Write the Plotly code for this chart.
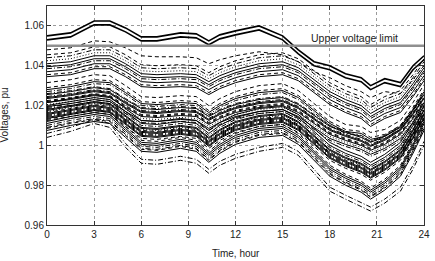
import plotly.graph_objects as go

hours = [0, 1.5, 3, 4, 5, 6, 7, 8.5, 9.5, 10.3, 11, 12, 13.5, 15, 16, 17, 18, 19, 20, 20.6, 21.5, 22.5, 23.3, 24]
x_ticks = [0, 3, 6, 9, 12, 15, 18, 21, 24]
y_ticks = [0.96, 0.98, 1.0, 1.02, 1.04, 1.06]
y_tick_labels = ["0.96", "0.98", "1", "1.02", "1.04", "1.06"]
upper_limit = 1.05
limit_label = "Upper voltage limit"

v01 = [1.055, 1.0565, 1.0625, 1.0625, 1.059, 1.0545, 1.0545, 1.0565, 1.056, 1.0525, 1.0555, 1.0575, 1.060, 1.055, 1.048, 1.042, 1.040, 1.036, 1.034, 1.030, 1.0335, 1.0315, 1.040, 1.045]
v02 = [1.053, 1.0545, 1.0605, 1.0605, 1.057, 1.0525, 1.0525, 1.0545, 1.054, 1.0505, 1.0535, 1.0555, 1.058, 1.053, 1.046, 1.040, 1.038, 1.034, 1.032, 1.028, 1.0315, 1.0295, 1.038, 1.043]
v03 = [1.048, 1.049, 1.0525, 1.052, 1.049, 1.045, 1.0445, 1.0445, 1.044, 1.041, 1.043, 1.045, 1.047, 1.0455, 1.042, 1.037, 1.034, 1.030, 1.027, 1.024, 1.027, 1.026, 1.033, 1.040]
v04 = [1.0455, 1.0465, 1.0495, 1.0495, 1.0455, 1.0405, 1.040, 1.0405, 1.040, 1.0365, 1.0395, 1.0425, 1.0455, 1.0465, 1.0435, 1.0375, 1.0315, 1.0275, 1.0245, 1.0205, 1.0245, 1.0275, 1.0355, 1.0435]
v05 = [1.044, 1.045, 1.048, 1.048, 1.044, 1.039, 1.0385, 1.039, 1.0385, 1.035, 1.038, 1.041, 1.044, 1.045, 1.042, 1.036, 1.030, 1.026, 1.023, 1.019, 1.023, 1.026, 1.034, 1.042]
v06 = [1.0425, 1.0435, 1.0465, 1.0465, 1.0425, 1.0375, 1.037, 1.0375, 1.037, 1.0335, 1.0365, 1.0395, 1.0425, 1.0435, 1.0405, 1.0345, 1.0285, 1.0245, 1.0215, 1.0175, 1.0215, 1.0245, 1.0325, 1.0405]
v07 = [1.041, 1.042, 1.045, 1.045, 1.041, 1.036, 1.0355, 1.036, 1.0355, 1.032, 1.035, 1.038, 1.041, 1.042, 1.039, 1.033, 1.027, 1.023, 1.020, 1.016, 1.020, 1.023, 1.031, 1.039]
v08 = [1.0395, 1.0405, 1.0435, 1.0435, 1.0395, 1.0345, 1.034, 1.0345, 1.034, 1.0305, 1.0335, 1.0365, 1.0395, 1.0405, 1.0375, 1.0315, 1.0255, 1.0215, 1.0185, 1.0145, 1.0185, 1.0215, 1.0295, 1.0375]
v09 = [1.0385, 1.0395, 1.0425, 1.0425, 1.0385, 1.0335, 1.033, 1.0335, 1.033, 1.0295, 1.0325, 1.0355, 1.0385, 1.0395, 1.0365, 1.0305, 1.0245, 1.0205, 1.0175, 1.0135, 1.0175, 1.0205, 1.0285, 1.0365]
v10 = [1.037, 1.038, 1.041, 1.041, 1.037, 1.032, 1.0315, 1.032, 1.0315, 1.028, 1.031, 1.034, 1.037, 1.038, 1.035, 1.029, 1.023, 1.019, 1.016, 1.012, 1.016, 1.019, 1.027, 1.035]
v11 = [1.0355, 1.0365, 1.0395, 1.0395, 1.0355, 1.0305, 1.030, 1.0305, 1.030, 1.0265, 1.0295, 1.0325, 1.0355, 1.0365, 1.0335, 1.0275, 1.0215, 1.0175, 1.0145, 1.0105, 1.0145, 1.0175, 1.0255, 1.0335]
v12 = [1.0345, 1.0355, 1.0385, 1.0385, 1.0345, 1.0295, 1.029, 1.0295, 1.029, 1.0255, 1.0285, 1.0315, 1.0345, 1.0355, 1.0325, 1.0265, 1.0205, 1.0165, 1.0135, 1.0095, 1.0135, 1.0165, 1.0245, 1.0325]
v13 = [1.0315, 1.033, 1.0355, 1.035, 1.030, 1.0245, 1.024, 1.025, 1.0245, 1.020, 1.0235, 1.027, 1.030, 1.031, 1.0275, 1.021, 1.0145, 1.0105, 1.0095, 1.0065, 1.008, 1.0125, 1.0215, 1.0305]
v14 = [1.029, 1.0305, 1.033, 1.0325, 1.0275, 1.022, 1.0215, 1.0225, 1.022, 1.0175, 1.021, 1.0245, 1.0275, 1.0285, 1.025, 1.0185, 1.012, 1.008, 1.007, 1.004, 1.0055, 1.010, 1.019, 1.028]
v15 = [1.028, 1.0295, 1.032, 1.0315, 1.0265, 1.021, 1.0205, 1.0215, 1.021, 1.0165, 1.020, 1.0235, 1.0265, 1.0275, 1.024, 1.0175, 1.011, 1.007, 1.006, 1.003, 1.0045, 1.009, 1.018, 1.027]
v16 = [1.027, 1.0285, 1.031, 1.0305, 1.0255, 1.020, 1.0195, 1.0205, 1.020, 1.0155, 1.019, 1.0225, 1.0255, 1.0265, 1.023, 1.0165, 1.010, 1.006, 1.005, 1.002, 1.0035, 1.008, 1.017, 1.026]
v17 = [1.0255, 1.027, 1.029, 1.028, 1.023, 1.0185, 1.018, 1.019, 1.0185, 1.0145, 1.0175, 1.0205, 1.023, 1.024, 1.0205, 1.015, 1.0095, 1.0065, 1.004, 1.0015, 1.0045, 1.0095, 1.0175, 1.0255]
v18 = [1.0245, 1.026, 1.028, 1.027, 1.022, 1.0175, 1.017, 1.018, 1.0175, 1.0135, 1.0165, 1.0195, 1.022, 1.023, 1.0195, 1.014, 1.0085, 1.0055, 1.003, 1.0005, 1.0035, 1.0085, 1.0165, 1.0245]
v19 = [1.0235, 1.025, 1.027, 1.026, 1.021, 1.0165, 1.016, 1.017, 1.0165, 1.0125, 1.0155, 1.0185, 1.021, 1.022, 1.0185, 1.013, 1.0075, 1.0045, 1.002, 0.9995, 1.0025, 1.0075, 1.0155, 1.0235]
v20 = [1.0225, 1.024, 1.026, 1.025, 1.020, 1.0155, 1.015, 1.016, 1.0155, 1.0115, 1.0145, 1.0175, 1.020, 1.021, 1.0175, 1.012, 1.0065, 1.0035, 1.001, 0.9985, 1.0015, 1.0065, 1.0145, 1.0225]
v21 = [1.0215, 1.023, 1.025, 1.024, 1.019, 1.0145, 1.014, 1.015, 1.0145, 1.0105, 1.0135, 1.0165, 1.019, 1.020, 1.0165, 1.011, 1.0055, 1.0025, 1.000, 0.9975, 1.0005, 1.0055, 1.0135, 1.0215]
v22 = [1.0205, 1.022, 1.024, 1.023, 1.018, 1.0135, 1.013, 1.014, 1.0135, 1.0095, 1.0125, 1.0155, 1.018, 1.019, 1.0155, 1.010, 1.0045, 1.0015, 0.999, 0.9965, 0.9995, 1.0045, 1.0125, 1.0205]
v23 = [1.0195, 1.021, 1.023, 1.022, 1.017, 1.0125, 1.012, 1.013, 1.0125, 1.0085, 1.0115, 1.0145, 1.017, 1.018, 1.0145, 1.009, 1.0035, 1.0005, 0.998, 0.9955, 0.9985, 1.0035, 1.0115, 1.0195]
v24 = [1.0185, 1.020, 1.022, 1.021, 1.016, 1.0115, 1.011, 1.012, 1.0115, 1.0075, 1.0105, 1.0135, 1.016, 1.017, 1.0135, 1.008, 1.0025, 0.9995, 0.997, 0.9945, 0.9975, 1.0025, 1.0105, 1.0185]
v25 = [1.0175, 1.0195, 1.0215, 1.0205, 1.0145, 1.0085, 1.008, 1.0095, 1.0085, 1.0035, 1.0075, 1.0115, 1.0145, 1.0155, 1.0115, 1.0045, 0.9975, 0.9935, 0.9905, 0.9875, 0.9915, 0.9975, 1.0075, 1.0175]
v26 = [1.0165, 1.0185, 1.0205, 1.0195, 1.0135, 1.0075, 1.007, 1.0085, 1.0075, 1.0025, 1.0065, 1.0105, 1.0135, 1.0145, 1.0105, 1.0035, 0.9965, 0.9925, 0.9895, 0.9865, 0.9905, 0.9965, 1.0065, 1.0165]
v27 = [1.0155, 1.0175, 1.0195, 1.0185, 1.0125, 1.0065, 1.006, 1.0075, 1.0065, 1.0015, 1.0055, 1.0095, 1.0125, 1.0135, 1.0095, 1.0025, 0.9955, 0.9915, 0.9885, 0.9855, 0.9895, 0.9955, 1.0055, 1.0155]
v28 = [1.0145, 1.0165, 1.0185, 1.0175, 1.0115, 1.0055, 1.005, 1.0065, 1.0055, 1.0005, 1.0045, 1.0085, 1.0115, 1.0125, 1.0085, 1.0015, 0.9945, 0.9905, 0.9875, 0.9845, 0.9885, 0.9945, 1.0045, 1.0145]
v29 = [1.0135, 1.0155, 1.0175, 1.0165, 1.0105, 1.0045, 1.004, 1.0055, 1.0045, 0.9995, 1.0035, 1.0075, 1.0105, 1.0115, 1.0075, 1.0005, 0.9935, 0.9895, 0.9865, 0.9835, 0.9875, 0.9935, 1.0035, 1.0135]
v30 = [1.0125, 1.0145, 1.0165, 1.0155, 1.0095, 1.0035, 1.003, 1.0045, 1.0035, 0.9985, 1.0025, 1.0065, 1.0095, 1.0105, 1.0065, 0.9995, 0.9925, 0.9885, 0.9855, 0.9825, 0.9865, 0.9925, 1.0025, 1.0125]
v31 = [1.011, 1.0135, 1.0155, 1.0145, 1.0075, 1.0005, 1.000, 1.002, 1.0005, 0.995, 0.9995, 1.004, 1.0075, 1.0085, 1.004, 0.996, 0.988, 0.9835, 0.980, 0.9765, 0.981, 0.988, 0.9995, 1.011]
v32 = [1.010, 1.0125, 1.0145, 1.0135, 1.0065, 0.9995, 0.999, 1.001, 0.9995, 0.994, 0.9985, 1.003, 1.0065, 1.0075, 1.003, 0.995, 0.987, 0.9825, 0.979, 0.9755, 0.980, 0.987, 0.9985, 1.010]
v33 = [1.0085, 1.011, 1.013, 1.012, 1.005, 0.998, 0.9975, 0.9995, 0.998, 0.9925, 0.997, 1.0015, 1.005, 1.006, 1.0015, 0.9935, 0.9855, 0.981, 0.9775, 0.974, 0.9785, 0.9855, 0.997, 1.0085]
v34 = [1.0075, 1.010, 1.012, 1.011, 1.004, 0.997, 0.9965, 0.9985, 0.997, 0.9915, 0.996, 1.0005, 1.004, 1.005, 1.0005, 0.9925, 0.9845, 0.980, 0.9765, 0.973, 0.9775, 0.9845, 0.996, 1.0075]
v35 = [1.006, 1.009, 1.013, 1.011, 1.001, 0.993, 0.9925, 0.9945, 0.993, 0.988, 0.992, 0.9955, 0.999, 1.001, 0.997, 0.988, 0.979, 0.975, 0.9715, 0.969, 0.973, 0.979, 0.990, 1.002]
v36 = [1.004, 1.007, 1.011, 1.009, 0.999, 0.991, 0.9905, 0.9925, 0.991, 0.986, 0.990, 0.9935, 0.997, 0.999, 0.995, 0.986, 0.977, 0.973, 0.9695, 0.967, 0.971, 0.977, 0.988, 1.000]
v37 = [1.026, 1.0275, 1.0295, 1.0285, 1.0235, 1.019, 1.0185, 1.0195, 1.019, 1.015, 1.018, 1.021, 1.0235, 1.0245, 1.021, 1.0155, 1.010, 1.007, 1.0045, 1.002, 1.005, 1.010, 1.018, 1.026]
v38 = [1.024, 1.0255, 1.0275, 1.0265, 1.0215, 1.017, 1.0165, 1.0175, 1.017, 1.013, 1.016, 1.019, 1.0215, 1.0225, 1.019, 1.0135, 1.008, 1.005, 1.0025, 1.000, 1.003, 1.008, 1.016, 1.024]
v39 = [1.022, 1.0235, 1.0255, 1.0245, 1.0195, 1.015, 1.0145, 1.0155, 1.015, 1.011, 1.014, 1.017, 1.0195, 1.0205, 1.017, 1.0115, 1.006, 1.003, 1.0005, 0.998, 1.001, 1.006, 1.014, 1.022]
v40 = [1.020, 1.022, 1.024, 1.023, 1.017, 1.011, 1.0105, 1.012, 1.011, 1.006, 1.010, 1.014, 1.017, 1.018, 1.014, 1.007, 1.000, 0.996, 0.993, 0.990, 0.994, 1.000, 1.010, 1.020]
v41 = [1.019, 1.021, 1.023, 1.022, 1.016, 1.010, 1.0095, 1.011, 1.010, 1.005, 1.009, 1.013, 1.016, 1.017, 1.013, 1.006, 0.999, 0.995, 0.992, 0.989, 0.993, 0.999, 1.009, 1.019]
v42 = [1.018, 1.020, 1.022, 1.021, 1.015, 1.009, 1.0085, 1.010, 1.009, 1.004, 1.008, 1.012, 1.015, 1.016, 1.012, 1.005, 0.998, 0.994, 0.991, 0.988, 0.992, 0.998, 1.008, 1.018]
v43 = [1.017, 1.019, 1.021, 1.020, 1.014, 1.008, 1.0075, 1.009, 1.008, 1.003, 1.007, 1.011, 1.014, 1.015, 1.011, 1.004, 0.997, 0.993, 0.990, 0.987, 0.991, 0.997, 1.007, 1.017]
v44 = [1.016, 1.018, 1.020, 1.019, 1.013, 1.007, 1.0065, 1.008, 1.007, 1.002, 1.006, 1.010, 1.013, 1.014, 1.010, 1.003, 0.996, 0.992, 0.989, 0.986, 0.990, 0.996, 1.006, 1.016]
v45 = [1.015, 1.017, 1.019, 1.018, 1.012, 1.006, 1.0055, 1.007, 1.006, 1.001, 1.005, 1.009, 1.012, 1.013, 1.009, 1.002, 0.995, 0.991, 0.988, 0.985, 0.989, 0.995, 1.005, 1.015]
v46 = [1.014, 1.016, 1.018, 1.017, 1.011, 1.005, 1.0045, 1.006, 1.005, 1.000, 1.004, 1.008, 1.011, 1.012, 1.008, 1.001, 0.994, 0.990, 0.987, 0.984, 0.988, 0.994, 1.004, 1.014]
v47 = [1.013, 1.0155, 1.0175, 1.0165, 1.0095, 1.0025, 1.002, 1.004, 1.0025, 0.997, 1.0015, 1.006, 1.0095, 1.0105, 1.006, 0.998, 0.990, 0.9855, 0.982, 0.9785, 0.983, 0.990, 1.0015, 1.013]
v48 = [1.012, 1.0145, 1.0165, 1.0155, 1.0085, 1.0015, 1.001, 1.003, 1.0015, 0.996, 1.0005, 1.005, 1.0085, 1.0095, 1.005, 0.997, 0.989, 0.9845, 0.981, 0.9775, 0.982, 0.989, 1.0005, 1.012]
v49 = [1.009, 1.0115, 1.0135, 1.0125, 1.0055, 0.9985, 0.998, 1.000, 0.9985, 0.993, 0.9975, 1.002, 1.0055, 1.0065, 1.002, 0.994, 0.986, 0.9815, 0.978, 0.9745, 0.979, 0.986, 0.9975, 1.009]
v50 = [1.0215, 1.0235, 1.0255, 1.0245, 1.0185, 1.0125, 1.012, 1.0135, 1.0125, 1.0075, 1.0115, 1.0155, 1.0185, 1.0195, 1.0155, 1.0085, 1.0015, 0.9975, 0.9945, 0.9915, 0.9955, 1.0015, 1.0115, 1.0215]

series = [v01, v02, v03, v04, v05, v06, v07, v08, v09, v10, v11, v12, v13, v14, v15, v16, v17, v18,
          v19, v20, v21, v22, v23, v24, v25, v26, v27, v28, v29, v30, v31, v32, v33, v34, v35, v36,
          v37, v38, v39, v40, v41, v42, v43, v44, v45, v46, v47, v48, v49, v50]

SOLID = "solid"
DASH = "4px,3px"
DASHDOT = "5px,2px,1px,2px"
DOT = "1px,2px"
styles = [SOLID, SOLID, DASH, DASH, DASHDOT, DOT, SOLID, SOLID, DASHDOT, SOLID, DASH, SOLID,
          DASH, DASH, SOLID, DASHDOT, SOLID, DASHDOT, SOLID, DASH, SOLID, DOT, SOLID, DASHDOT,
          SOLID, DASH, SOLID, DASHDOT, SOLID, DASH, SOLID, DASHDOT, DASH, SOLID, DASHDOT, DASHDOT,
          DASHDOT, SOLID, DASH, SOLID, DASHDOT, SOLID, DOT, SOLID, DASHDOT, SOLID, DASH, SOLID,
          DASHDOT, SOLID]
widths = [1.6, 1.6] + [1.0] * 48

fig = go.Figure()
for vals, dash, w in zip(series, styles, widths):
    fig.add_trace(go.Scatter(x=hours, y=vals, mode="lines",
                             line=dict(color="#000000", width=w, dash=dash),
                             hoverinfo="skip", showlegend=False))

fig.add_trace(go.Scatter(x=[x_ticks[0], x_ticks[-1]], y=[upper_limit, upper_limit], mode="lines",
                         line=dict(color="#8f8f8f", width=2.5), hoverinfo="skip", showlegend=False))

font = dict(family="Liberation Sans, Arial, sans-serif", size=10, color="#222222")
axis_common = dict(showline=True, linecolor="#333333", linewidth=1, mirror="ticks",
                   ticks="inside", ticklen=4, tickcolor="#333333",
                   showgrid=True, gridcolor="#9a9a9a", griddash="dot", gridwidth=1,
                   zeroline=False, tickfont=font)

fig.update_layout(
    width=435, height=261,
    margin=dict(l=47, r=7, t=5, b=36),
    paper_bgcolor="white", plot_bgcolor="white",
    xaxis=dict(range=[0, 24], tickvals=x_ticks, **axis_common),
    yaxis=dict(range=[0.96, 1.07], tickvals=y_ticks, ticktext=y_tick_labels, **axis_common),
    annotations=[
        dict(x=19.55, y=1.0538, xref="x", yref="y", text=limit_label, showarrow=False,
             font=dict(family="Liberation Sans, Arial, sans-serif", size=10.5, color="#222222")),
        dict(x=12, y=-0.128, xref="x", yref="paper", text="Time, hour", showarrow=False,
             font=font, yanchor="middle"),
        dict(x=-0.114, y=0.5, xref="paper", yref="paper", text="Voltages, pu", showarrow=False,
             textangle=-90, font=font, xanchor="center", yanchor="middle"),
    ],
)

fig.write_html("out.html")
